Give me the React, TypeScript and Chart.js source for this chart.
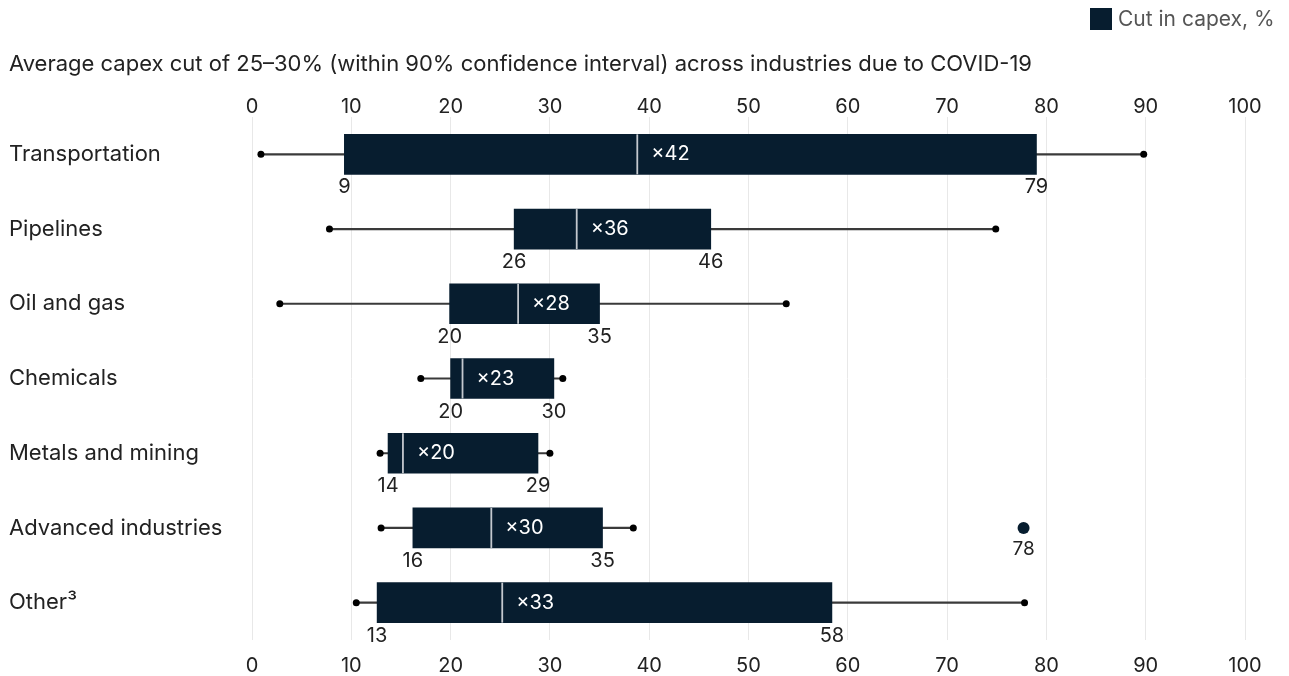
import React, { useEffect, useRef } from "react";
import { Chart, registerables } from "chart.js";

Chart.register(...registerables);

// ---------- data ----------
const categories = [
  "Transportation",
  "Pipelines",
  "Oil and gas",
  "Chemicals",
  "Metals and mining",
  "Advanced industries",
  "Other³",
];
const whiskerMin = [0.9, 7.8, 2.8, 17.0, 12.9, 13.0, 10.5];
const boxLow = [9.3, 26.4, 19.9, 20.0, 13.7, 16.2, 12.6];
const medians = [38.8, 32.7, 26.8, 21.2, 15.2, 24.1, 25.2];
const boxHigh = [79.0, 46.2, 35.0, 30.4, 28.8, 35.3, 58.4];
const whiskerMax = [89.8, 74.9, 53.8, 31.3, 30.0, 38.4, 77.8];
const lowLabels = ["9", "26", "20", "20", "14", "16", "13"];
const highLabels = ["79", "46", "35", "30", "29", "35", "58"];
const countLabels = ["×42", "×36", "×28", "×23", "×20", "×30", "×33"];
const outlierCategories = ["Advanced industries"];
const outlierValues = [77.7];
const outlierLabels = ["78"];
const xTickValues = [0, 10, 20, 30, 40, 50, 60, 70, 80, 90, 100];

const subtitleText =
  "Average capex cut of 25–30% (within 90% confidence interval) across industries due to COVID-19";
const legendText = "Cut in capex, %";

// ---------- style ----------
const NAVY = "#071d2f";
const TEXT = "#222222";
const FONT = "Inter, 'Liberation Sans', sans-serif";
const W = 1289;
const H = 676;

const overlayPlugin = {
  id: "boxOverlay",
  afterDatasetsDraw(chart: any) {
    const ctx = chart.ctx;
    const xs = chart.scales.x;
    const ys = chart.scales.y;
    ctx.save();
    categories.forEach((c, i) => {
      const yc = ys.getPixelForValue(i);
      const xm = xs.getPixelForValue(medians[i]);
      ctx.strokeStyle = "#c3c8ce";
      ctx.lineWidth = 1.8;
      ctx.beginPath();
      ctx.moveTo(xm, yc - 20);
      ctx.lineTo(xm, yc + 20);
      ctx.stroke();

      ctx.font = `20px ${FONT}`;
      ctx.textBaseline = "middle";
      ctx.fillStyle = "#ffffff";
      ctx.textAlign = "left";
      ctx.fillText(countLabels[i], xm + 14, yc);

      ctx.fillStyle = TEXT;
      ctx.textAlign = "center";
      ctx.fillText(lowLabels[i], xs.getPixelForValue(boxLow[i]), yc + 33);
      ctx.fillText(highLabels[i], xs.getPixelForValue(boxHigh[i]), yc + 33);
    });
    outlierCategories.forEach((c, i) => {
      const yc = ys.getPixelForValue(categories.indexOf(c));
      ctx.fillStyle = TEXT;
      ctx.textAlign = "center";
      ctx.textBaseline = "middle";
      ctx.font = `19px ${FONT}`;
      ctx.fillText(outlierLabels[i], xs.getPixelForValue(outlierValues[i]), yc + 21);
    });
    ctx.restore();
  },
};

export default function App() {
  const canvasRef = useRef<HTMLCanvasElement | null>(null);

  useEffect(() => {
    document.body.style.margin = "0";
    const canvas = canvasRef.current;
    if (!canvas) return;
    const tickFont = { family: FONT, size: 20 };
    const catFont = { family: FONT, size: 22 };
    const chart = new Chart(canvas, {
      type: "bar",
      data: {
        labels: categories,
        datasets: [
          {
            type: "bar",
            label: legendText,
            data: boxLow.map((l, i) => [l, boxHigh[i]]),
            backgroundColor: NAVY,
            barThickness: 40,
            grouped: false,
            order: 0,
            xAxisID: "x",
            yAxisID: "y",
          } as any,
          {
            type: "bar",
            label: "range",
            data: whiskerMin.map((m, i) => [m, whiskerMax[i]]),
            backgroundColor: "#3a3a3a",
            barThickness: 1.5,
            grouped: false,
            order: 2,
            xAxisID: "x",
            yAxisID: "y",
          } as any,
          {
            type: "scatter",
            label: "ends",
            data: categories.flatMap((c, i) => [
              { x: whiskerMin[i], y: c },
              { x: whiskerMax[i], y: c },
            ]),
            pointRadius: 3.5,
            pointBackgroundColor: "#000000",
            pointBorderWidth: 0,
            order: 1,
            xAxisID: "x",
            yAxisID: "y",
          } as any,
          {
            type: "scatter",
            label: "outlier",
            data: outlierCategories.map((c, i) => ({ x: outlierValues[i], y: c })),
            pointRadius: 6,
            pointBackgroundColor: NAVY,
            pointBorderWidth: 0,
            order: 1,
            xAxisID: "x",
            yAxisID: "y",
          } as any,
        ],
      },
      options: {
        indexAxis: "y",
        animation: false,
        responsive: true,
        maintainAspectRatio: false,
        layout: { padding: { left: 9, right: 44, top: 0, bottom: 0 } },
        plugins: {
          legend: { display: false },
          tooltip: { enabled: false },
        },
        scales: {
          x: {
            type: "linear",
            position: "top",
            min: 0,
            max: 100,
            afterBuildTicks: (s: any) => {
              s.ticks = xTickValues.map((v) => ({ value: v }));
            },
            afterFit: (s: any) => {
              s.height = 117;
            },
            grid: { display: true, color: "#e8e8e8", lineWidth: 1, drawTicks: false },
            border: { display: false },
            ticks: { font: tickFont, color: TEXT, padding: -2, maxRotation: 0 },
          },
          x2: {
            type: "linear",
            position: "bottom",
            min: 0,
            max: 100,
            afterBuildTicks: (s: any) => {
              s.ticks = xTickValues.map((v) => ({ value: v }));
            },
            afterFit: (s: any) => {
              s.height = 36;
            },
            grid: { display: false, drawTicks: false },
            border: { display: false },
            ticks: { font: tickFont, color: TEXT, padding: 14, maxRotation: 0 },
          },
          y: {
            type: "category",
            position: "left",
            afterFit: (s: any) => {
              s.width = 243;
            },
            grid: { display: false, drawTicks: false },
            border: { display: false },
            ticks: { font: catFont, color: TEXT, crossAlign: "far", padding: 0 },
          },
        },
      } as any,
      plugins: [overlayPlugin],
    });
    return () => chart.destroy();
  }, []);

  return (
    <div
      style={{
        position: "fixed",
        left: 0,
        top: 0,
        width: W,
        height: H,
        background: "#ffffff",
        fontFamily: FONT,
      }}
    >
      <canvas ref={canvasRef} style={{ position: "absolute", left: 0, top: 0, width: W, height: H }} />
      <div
        style={{
          position: "absolute",
          left: 9,
          top: 63,
          transform: "translateY(-50%)",
          fontSize: 22,
          color: TEXT,
          whiteSpace: "nowrap",
          lineHeight: 1,
        }}
      >
        {subtitleText}
      </div>
      <div
        style={{
          position: "absolute",
          left: 1090,
          top: 8,
          display: "flex",
          alignItems: "center",
          whiteSpace: "nowrap",
        }}
      >
        <span style={{ display: "inline-block", width: 22, height: 22, background: NAVY, marginRight: 6 }} />
        <span style={{ fontSize: 21, color: "#555555", lineHeight: "22px" }}>{legendText}</span>
      </div>
    </div>
  );
}
